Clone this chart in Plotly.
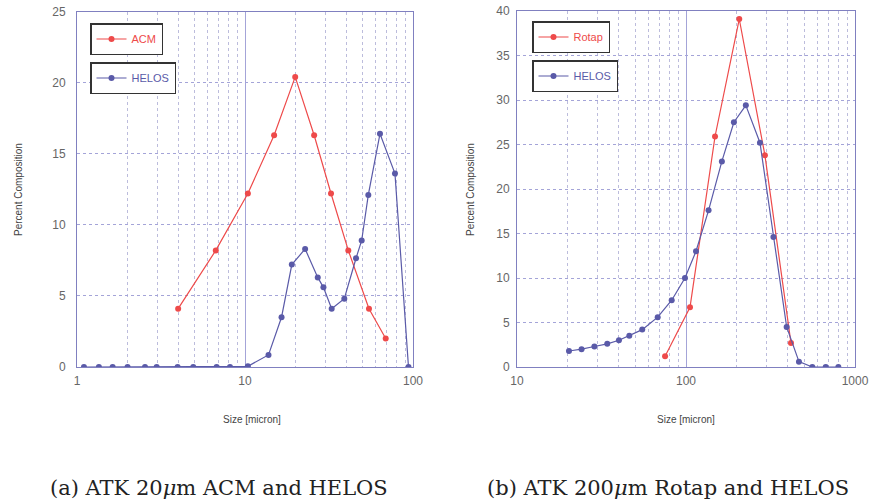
import plotly.graph_objects as go

# ---- data: panel (a) ATK 20um ----
acm_size = [4.0, 6.7, 10.4, 14.9, 19.9, 25.8, 32.5, 41.2, 54.7, 68.8]
acm_pct = [4.1, 8.2, 12.2, 16.3, 20.4, 16.3, 12.2, 8.2, 4.1, 2.0]

helos_a_size = [1.1, 1.35, 1.63, 2.0, 2.54, 2.98, 3.97, 4.92, 6.78, 8.14, 10.4, 13.8,
                16.5, 19.0, 22.8, 27.1, 29.3, 32.8, 39.0, 45.8, 49.5, 54.2, 63.6, 78.1, 94.0]
helos_a_pct = [0, 0, 0, 0, 0, 0, 0, 0, 0, 0, 0.05, 0.85,
               3.5, 7.2, 8.3, 6.3, 5.6, 4.1, 4.8, 7.65, 8.9, 12.1, 16.4, 13.6, 0]

# ---- data: panel (b) ATK 200um ----
rotap_size = [75.2, 105.6, 148.5, 206.6, 293, 418]
rotap_pct = [1.2, 6.7, 25.9, 39.1, 23.8, 2.7]

helos_b_size = [20.3, 24.1, 28.7, 34.2, 40.1, 46.2, 55.1, 68, 82.3, 98.6, 114.6, 136,
                163, 192, 226, 274, 329, 394, 466, 559, 671, 797]
helos_b_pct = [1.8, 2.0, 2.3, 2.6, 3.0, 3.5, 4.2, 5.6, 7.5, 10.0, 13.0, 17.6,
               23.1, 27.5, 29.4, 25.2, 14.6, 4.5, 0.6, 0, 0, 0]

y_ticks_a = [0, 5, 10, 15, 20, 25]
y_ticks_b = [0, 5, 10, 15, 20, 25, 30, 35, 40]
x_ticks_a = [1, 10, 100]
x_ticks_b = [10, 100, 1000]

RED = "#ee4a4a"
BLUE = "#5a5aa8"
MAJ = "#a4a4d8"
MIN = "#bcbcdc"
AXC = "#8080c0"
TICKC = "#666666"

fig = go.Figure()

def add(x, y, name, color, xa, ya, leg):
    fig.add_trace(go.Scatter(
        x=x, y=y, name=name, mode="lines+markers",
        line=dict(color=color, width=1.2),
        marker=dict(color=color, size=6, symbol="circle"),
        xaxis=xa, yaxis=ya, legend=leg))

add(acm_size, acm_pct, "ACM", RED, "x", "y", "legend")
add(helos_a_size, helos_a_pct, "HELOS", BLUE, "x", "y", "legend2")
add(rotap_size, rotap_pct, "Rotap", RED, "x2", "y2", "legend3")
add(helos_b_size, helos_b_pct, "HELOS", BLUE, "x2", "y2", "legend4")

W, H = 872, 502
def px(v): return v / W
def py(v): return (H - v) / H

minor_a = [m * d for d in (1, 10) for m in range(2, 10)]
minor_b = [m * d for d in (10, 100) for m in range(2, 10)]

common_x = dict(type="log", showline=True, linecolor=AXC, linewidth=1, mirror=True,
                showgrid=True, gridcolor=MAJ, gridwidth=1, zeroline=False, automargin=False,
                tickfont=dict(family="Liberation Sans", size=12, color=TICKC),
                ticks="", ticklabelstandoff=3)
common_y = dict(showline=True, linecolor=AXC, linewidth=1, mirror=True, automargin=False,
                showgrid=True, gridcolor=MAJ, gridwidth=1, griddash="dot", zeroline=False,
                tickfont=dict(family="Liberation Sans", size=12, color=TICKC), ticks="")

fig.update_layout(
    width=W, height=H, margin=dict(l=0, r=0, t=0, b=0, autoexpand=False),
    paper_bgcolor="white", plot_bgcolor="white",
    xaxis=dict(common_x, domain=[px(77), px(413)], range=[0, 2], anchor="y",
               tickvals=x_ticks_a, ticktext=[str(v) for v in x_ticks_a],
               minor=dict(tickvals=minor_a, showgrid=True, gridcolor=MIN, griddash="dot", ticks="")),
    yaxis=dict(common_y, domain=[py(367), py(11.5)], range=[0, 25], anchor="x",
               tickvals=y_ticks_a, ticklabelstandoff=8),
    xaxis2=dict(common_x, domain=[px(517), px(855)], range=[1, 3], anchor="y2",
                tickvals=x_ticks_b, ticktext=[str(v) for v in x_ticks_b],
                minor=dict(tickvals=minor_b, showgrid=True, gridcolor=MIN, griddash="dot", ticks="")),
    yaxis2=dict(common_y, domain=[py(367), py(11)], range=[0, 40], anchor="x2",
                tickvals=y_ticks_b, ticklabelstandoff=4),
    showlegend=True,
)

def leg(x, y, color):
    return dict(x=px(x), y=py(y), xanchor="left", yanchor="top",
                bgcolor="white", bordercolor="#333333", borderwidth=1.5,
                font=dict(family="Liberation Sans", size=11, color=color),
                itemwidth=30, tracegroupgap=0)

fig.update_layout(
    legend=leg(90, 23, RED),
    legend2=leg(90, 62, BLUE),
    legend3=leg(532, 21, RED),
    legend4=leg(532, 60, BLUE),
)

ann_font = dict(family="Liberation Sans", size=10, color="#444444")
cap_font = dict(family="DejaVu Serif", size=21, color="#222222")
anns = [
    dict(text="Percent Composition", x=px(18), y=py(190), textangle=-90, font=ann_font),
    dict(text="Percent Composition", x=px(470), y=py(190), textangle=-90, font=ann_font),
    dict(text="Size [micron]", x=px(252), y=py(419), font=ann_font),
    dict(text="Size [micron]", x=px(686), y=py(419), font=ann_font),
    dict(text="(a) ATK 20<i>μ</i>m ACM and HELOS", x=px(219), y=py(488), font=cap_font),
    dict(text="(b) ATK 200<i>μ</i>m Rotap and HELOS", x=px(668), y=py(488), font=cap_font),
]
for a in anns:
    fig.add_annotation(xref="paper", yref="paper", showarrow=False,
                       xanchor="center", yanchor="middle", **a)

fig.write_html("out.html")
